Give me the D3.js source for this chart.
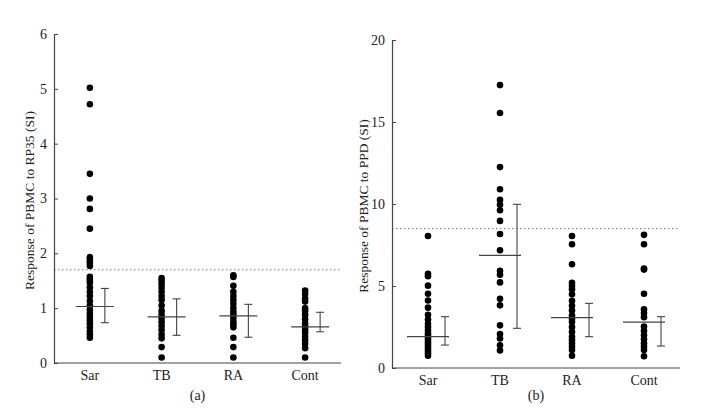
<!DOCTYPE html>
<html>
<head>
<meta charset="utf-8">
<script src="https://cdn.jsdelivr.net/npm/d3@7"></script>
<style>
  body { margin: 0; background: #fff; }
</style>
</head>
<body>
<svg id="chart" width="705" height="414"></svg>
<script>
const categories = ["Sar", "TB", "RA", "Cont"]

// panel (a): response to RP35
const rp35Sar = [5.02, 4.72, 3.45, 3.0, 2.81, 2.45, 1.93, 1.88, 1.83, 1.77, 1.57, 1.52, 1.47, 1.38, 1.30, 1.22, 1.13, 1.05, 0.97, 0.90, 0.84, 0.78, 0.72, 0.65, 0.58, 0.52, 0.46]
const rp35TB = [1.55, 1.50, 1.44, 1.37, 1.30, 1.22, 1.15, 1.05, 0.95, 0.88, 0.82, 0.75, 0.68, 0.60, 0.52, 0.45, 0.29, 0.10]
const rp35RA = [1.60, 1.57, 1.41, 1.30, 1.22, 1.15, 1.08, 1.00, 0.93, 0.88, 0.82, 0.75, 0.70, 0.65, 0.46, 0.29, 0.10]
const rp35Cont = [1.32, 1.26, 1.18, 1.12, 1.00, 0.95, 0.88, 0.80, 0.72, 0.66, 0.60, 0.55, 0.48, 0.42, 0.35, 0.27, 0.10]
const rp35Mean = [1.03, 0.84, 0.86, 0.66]
const rp35Upper = [1.36, 1.17, 1.07, 0.925]
const rp35Lower = [0.735, 0.505, 0.47, 0.57]
const rp35Cutoff = 1.7
const rp35Ticks = [0, 1, 2, 3, 4, 5, 6]

// panel (b): response to PPD
const ppdSar = [8.05, 5.75, 5.6, 5.02, 4.53, 4.12, 3.68, 3.25, 2.95, 2.7, 2.5, 2.3, 2.1, 1.95, 1.8, 1.65, 1.5, 1.35, 1.2, 1.05, 0.9, 0.75]
const ppdTB = [17.25, 15.55, 12.25, 10.9, 10.25, 9.95, 9.62, 8.97, 8.17, 7.18, 5.92, 5.69, 5.22, 4.22, 3.82, 2.6, 2.07, 1.8, 1.38, 1.07]
const ppdRA = [8.05, 7.55, 6.33, 5.2, 5.0, 4.8, 4.5, 4.1, 3.8, 3.5, 3.2, 3.0, 2.8, 2.5, 2.2, 1.9, 1.7, 1.5, 1.3, 1.1, 0.75]
const ppdCont = [8.12, 7.55, 6.07, 6.0, 4.53, 3.58, 3.35, 3.1, 2.52, 2.25, 2.0, 1.75, 1.5, 1.3, 1.1, 0.72]
const ppdMean = [1.91, 6.87, 3.07, 2.80]
const ppdUpper = [3.13, 9.98, 3.94, 3.13]
const ppdLower = [1.40, 2.42, 1.91, 1.34]
const ppdCutoff = 8.5
const ppdTicks = [0, 5, 10, 15, 20]

const FONT = "'Liberation Serif', 'DejaVu Serif', serif"

const svg = d3.select("#chart")

function drawPanel(opt) {
  const g = svg.append("g")
  const x = d3.scaleBand().domain(categories).range([opt.x0, opt.x1])
  const y = d3.scaleLinear().domain([0, opt.yMax]).range([opt.y0, opt.yTop])

  // dotted cut-off line
  g.append("line")
    .attr("x1", opt.x0).attr("x2", opt.x1)
    .attr("y1", y(opt.cutoff)).attr("y2", y(opt.cutoff))
    .attr("stroke", "#777").attr("stroke-width", 1)
    .attr("stroke-dasharray", "1.5,2.5")

  // dots
  opt.series.forEach((vals, i) => {
    g.selectAll(null)
      .data(vals)
      .enter()
      .append("circle")
      .attr("cx", x(categories[i]) + x.bandwidth() / 2)
      .attr("cy", d => y(d))
      .attr("r", 3.3)
      .attr("fill", "#000")
  })

  // mean lines and error bars
  categories.forEach((c, i) => {
    const cx = x(c) + x.bandwidth() / 2
    const ex = cx + opt.errOff
    g.append("line")
      .attr("x1", cx - opt.meanL).attr("x2", cx + opt.meanR)
      .attr("y1", y(opt.mean[i])).attr("y2", y(opt.mean[i]))
      .attr("stroke", "#444").attr("stroke-width", 1.2)
    g.append("line")
      .attr("x1", ex).attr("x2", ex)
      .attr("y1", y(opt.upper[i])).attr("y2", y(opt.lower[i]))
      .attr("stroke", "#444").attr("stroke-width", 1.1)
    ;[opt.upper[i], opt.lower[i]].forEach(v => {
      g.append("line")
        .attr("x1", ex - 4).attr("x2", ex + 4)
        .attr("y1", y(v)).attr("y2", y(v))
        .attr("stroke", "#444").attr("stroke-width", 1.1)
    })
  })

  // y axis with inward ticks
  const yAxis = g.append("g")
    .attr("transform", "translate(" + opt.x0 + ",0)")
    .call(d3.axisLeft(y).tickValues(opt.ticks).tickFormat(d3.format("d"))
      .tickSize(-4).tickPadding(7).tickSizeOuter(0))
  yAxis.attr("font-family", FONT)
  yAxis.select(".domain").attr("stroke", "#444").attr("stroke-width", 1.2)
  yAxis.selectAll(".tick line").attr("stroke", "#444")
  yAxis.selectAll("text").style("font-size", "14px").style("font-family", FONT).attr("fill", "#222")

  // x axis line
  g.append("line")
    .attr("x1", opt.x0).attr("x2", opt.x1)
    .attr("y1", opt.y0).attr("y2", opt.y0)
    .attr("stroke", "#444").attr("stroke-width", 1.2)

  g.selectAll(null)
    .data(categories)
    .enter()
    .append("text")
    .attr("x", d => x(d) + x.bandwidth() / 2)
    .attr("y", opt.catY)
    .attr("text-anchor", "middle")
    .style("font-family", FONT)
    .style("font-size", "14px")
    .attr("fill", "#222")
    .text(d => d)

  g.append("text")
    .attr("x", (opt.x0 + opt.x1) / 2)
    .attr("y", 400)
    .attr("text-anchor", "middle")
    .style("font-family", FONT)
    .style("font-size", "14px")
    .attr("fill", "#222")
    .text(opt.tag)

  g.append("text")
    .attr("transform", "translate(" + opt.titleX + "," + ((opt.y0 + opt.yTop) / 2 + 2) + ") rotate(-90)")
    .attr("text-anchor", "middle")
    .style("font-family", FONT)
    .style("font-size", "13.5px")
    .attr("fill", "#222")
    .text(opt.title)
}

drawPanel({
  x0: 54, x1: 341, y0: 363, yTop: 34, yMax: 6,
  series: [rp35Sar, rp35TB, rp35RA, rp35Cont],
  mean: rp35Mean, upper: rp35Upper, lower: rp35Lower,
  cutoff: rp35Cutoff, ticks: rp35Ticks,
  errOff: 15, meanL: 14, meanR: 24,
  catY: 380, tag: "(a)", titleX: 34,
  title: "Response of PBMC to RP35 (SI)"
})

drawPanel({
  x0: 392, x1: 680, y0: 368, yTop: 40, yMax: 20,
  series: [ppdSar, ppdTB, ppdRA, ppdCont],
  mean: ppdMean, upper: ppdUpper, lower: ppdLower,
  cutoff: ppdCutoff, ticks: ppdTicks,
  errOff: 17, meanL: 21, meanR: 21,
  catY: 385, tag: "(b)", titleX: 368,
  title: "Response of PBMC to PPD (SI)"
})
</script>
</body>
</html>
